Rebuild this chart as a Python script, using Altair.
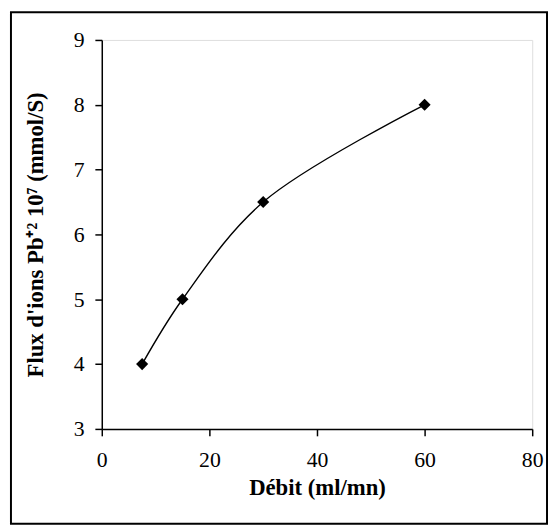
import altair as alt
import pandas as pd

# Data
debit = [7.5, 15, 30, 60]          # Débit (ml/mn)
flux = [4, 5, 6.5, 8]              # Flux d'ions Pb+2 10^7 (mmol/S)
x_ticks = [0, 20, 40, 60, 80]
y_ticks = [3, 4, 5, 6, 7, 8, 9]

df = pd.DataFrame({"debit": debit, "flux": flux})

serif = "Liberation Serif"

x_enc = alt.X("debit:Q",
              scale=alt.Scale(domain=[0, 80], nice=False, zero=False),
              axis=alt.Axis(values=x_ticks, format="d", title="Débit (ml/mn)", grid=False,
                            tickSize=7, tickWidth=1.5, tickColor="black",
                            domainColor="black", domainWidth=1.5,
                            labelFont=serif, labelFontSize=22, labelColor="black",
                            labelPadding=14, labelFlush=False, labelOverlap=False,
                            titleFont=serif, titleFontSize=23, titleFontWeight="bold",
                            titleColor="black", titlePadding=6))
y_enc = alt.Y("flux:Q",
              scale=alt.Scale(domain=[3, 9], nice=False, zero=False),
              axis=alt.Axis(values=y_ticks, format="d", title="Flux d'ions Pb⁺² 10⁷ (mmol/S)", grid=False,
                            tickSize=7, tickWidth=1.5, tickColor="black",
                            domainColor="black", domainWidth=1.5,
                            labelFont=serif, labelFontSize=22, labelColor="black",
                            labelPadding=11, labelFlush=False, labelOverlap=False,
                            titleFont=serif, titleFontSize=23, titleFontWeight="bold",
                            titleColor="black", titlePadding=26))

line = alt.Chart(df).mark_line(interpolate="catmull-rom", color="black", strokeWidth=1.4).encode(
    x=x_enc, y=y_enc)
pts = alt.Chart(df).mark_point(shape="diamond", filled=True, color="black", size=150, opacity=1).encode(
    x="debit:Q", y="flux:Q")

frame = alt.Chart(alt.Data(values=[{"a": 1}])).mark_rect(
    fill=None, stroke="black", strokeWidth=2).encode(
    x=alt.value(-92), x2=alt.value(451), y=alt.value(-28), y2=alt.value(490))

chart = alt.layer(frame, line, pts).properties(
    width=436, height=394,
    padding={"left": 95, "top": 29, "right": 16, "bottom": 97},
    autosize=alt.AutoSizeParams(type="none"),
).configure_view(stroke=None).configure(background="white")

chart.save("out.html", embed_options={"renderer": "svg", "actions": False})
